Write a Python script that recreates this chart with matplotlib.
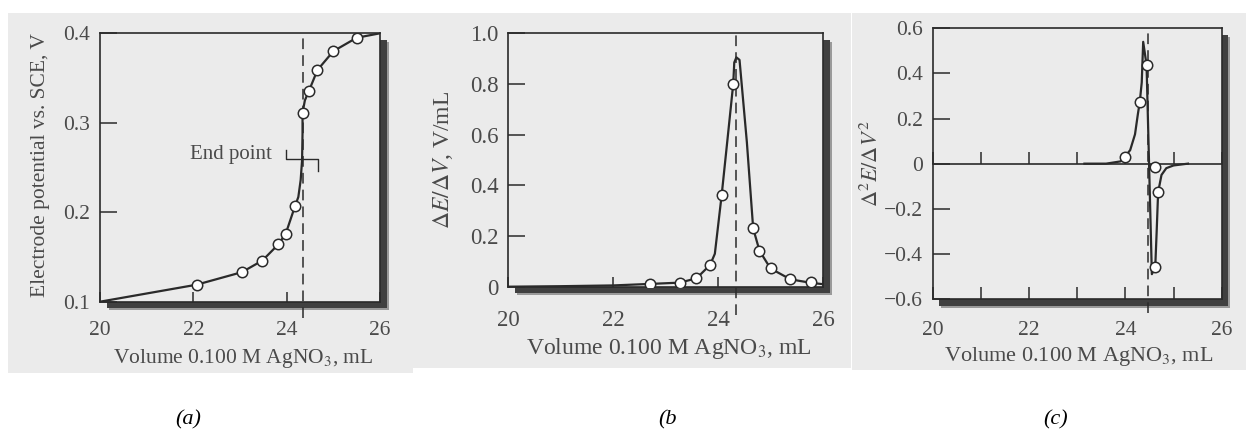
import matplotlib
matplotlib.use("Agg")
import matplotlib.pyplot as plt
from matplotlib.patches import Rectangle
from matplotlib.transforms import ScaledTranslation

plt.rcParams['font.family'] = ['Liberation Serif', 'DejaVu Serif']
plt.rcParams['mathtext.fontset'] = 'stix'

# ---------------- data ----------------
# (a) titration curve
a_pts_x = [22.07, 23.04, 23.48, 23.82, 23.98, 24.18, 24.34, 24.48, 24.66, 25.0, 25.5]
a_pts_y = [0.119, 0.133, 0.146, 0.164, 0.176, 0.207, 0.311, 0.336, 0.359, 0.380, 0.395]
a_line_x = [20.0, 22.07, 23.04, 23.48, 23.82, 23.98, 24.18, 24.25, 24.30, 24.33, 24.34,
            24.34, 24.39, 24.48, 24.66, 25.0, 25.5, 26.0]
a_line_y = [0.100, 0.119, 0.133, 0.146, 0.164, 0.176, 0.207, 0.217, 0.236, 0.258, 0.288,
            0.311, 0.325, 0.336, 0.359, 0.380, 0.395, 0.400]
a_end = 24.34
a_yticks = [0.1, 0.2, 0.3, 0.4]
a_ylabels = ['0.1', '0.2', '0.3', '0.4']

# (b) first derivative
b_pts_x = [22.71, 23.27, 23.59, 23.85, 24.07, 24.29, 24.67, 24.79, 25.0, 25.38, 25.78]
b_pts_y = [0.011, 0.016, 0.033, 0.086, 0.362, 0.80, 0.23, 0.142, 0.072, 0.029, 0.02]
b_line_x = [20.0, 21.0, 22.0, 22.71, 23.27, 23.59, 23.85, 23.94, 24.07, 24.18, 24.29,
            24.31, 24.35, 24.41, 24.55, 24.67, 24.79, 25.0, 25.38, 25.78, 26.0]
b_line_y = [0.0, 0.002, 0.005, 0.011, 0.016, 0.033, 0.086, 0.13, 0.362, 0.58, 0.80,
            0.885, 0.905, 0.895, 0.57, 0.23, 0.142, 0.072, 0.029, 0.015, 0.01]
b_end = 24.34
b_yticks = [0, 0.2, 0.4, 0.6, 0.8, 1.0]
b_ylabels = ['0', '0.2', '0.4', '0.6', '0.8', '1.0']

# (c) second derivative
c_pts_x = [23.99, 24.30, 24.44, 24.62, 24.68, 24.62]
c_pts_y = [0.031, 0.275, 0.437, -0.013, -0.127, -0.46]
c_line_x = [23.15, 23.6, 23.9, 23.99, 24.1, 24.2, 24.26, 24.30, 24.34, 24.37, 24.44,
            24.55, 24.62, 24.65, 24.68, 24.75, 24.85, 25.0, 25.3]
c_line_y = [0.0, 0.0, 0.01, 0.031, 0.06, 0.13, 0.22, 0.275, 0.36, 0.54, 0.437,
            -0.49, -0.46, -0.30, -0.127, -0.05, -0.02, -0.008, 0.0]
c_end = 24.48
c_yticks = [-0.6, -0.4, -0.2, 0, 0.2, 0.4, 0.6]
c_ylabels = ['\u22120.6', '\u22120.4', '\u22120.2', '0', '0.2', '0.4', '0.6']

x_ticks = [20, 22, 24, 26]
x_ticklabels = ['20', '22', '24', '26']
x_minor = [21, 23, 25]
xlabel = r'Volume 0.100 M AgNO$_3$, mL'
panel_tags = ['(a)', '(b', '(c)']

# ---------------- styling ----------------
W, H = 1246, 430
fig = plt.figure(figsize=(W / 100, H / 100), dpi=100)
fig.patch.set_facecolor('white')
BG = '#ebebeb'
INK = '#2a2a2a'
TXT = '#4a4a4a'

def px_rect(x0, y0, x1, y1):
    return [x0 / W, 1 - y1 / H, (x1 - x0) / W, (y1 - y0) / H]

# panel backgrounds (scanned photos)
for (x0, y0, x1, y1) in [(8, 13, 413, 373), (413, 13, 851, 368), (852, 13, 1246, 370)]:
    r = px_rect(x0, y0, x1, y1)
    fig.add_artist(Rectangle((r[0], r[1]), r[2], r[3], transform=fig.transFigure,
                             facecolor=BG, edgecolor='none', zorder=-5))

ax_a = fig.add_axes(px_rect(100, 33.3, 380, 301.7))
ax_b = fig.add_axes(px_rect(508, 33.3, 823, 286.7))
ax_c = fig.add_axes(px_rect(932.7, 28.3, 1221.7, 299))

def shadow(ax):
    for off, col in [(0.085, '#9a9a9a'), (0.065, '#404040')]:
        tr = ax.transAxes + ScaledTranslation(off, -off, fig.dpi_scale_trans)
        fig.add_artist(Rectangle((0, 0), 1, 1, transform=tr, facecolor=col,
                                 edgecolor='none', zorder=-1))

def style(ax, yl, yticks, ylabels, ylab, ylabpos, xlabpos, tickpad_x, fs_tick, fs_lab):
    ax.set_facecolor(BG)
    ax.set_zorder(1)
    for s in ax.spines.values():
        s.set_linewidth(1.2)
        s.set_color(INK)
    ax.set_xlim(20, 26)
    ax.set_ylim(*yl)
    ax.set_xticks(x_ticks)
    ax.set_xticklabels(x_ticklabels)
    ax.set_yticks(yticks)
    ax.set_yticklabels(ylabels)
    ax.tick_params(axis='y', direction='in', length=12, width=1.1, color=INK,
                   labelsize=fs_tick, labelcolor=TXT, pad=7)
    ax.tick_params(axis='x', direction='in', length=7, width=1.1, color=INK,
                   labelsize=fs_tick, labelcolor=TXT, pad=tickpad_x)
    ax.set_ylabel(ylab, fontsize=fs_lab, color=TXT, va='center')
    ax.yaxis.set_label_coords(*ylabpos)
    ax.set_xlabel(xlabel, fontsize=fs_lab, color=TXT, va='center')
    ax.xaxis.set_label_coords(*xlabpos)
    shadow(ax)

MK = dict(marker='o', linestyle='none', markersize=7.5, markerfacecolor='white',
          markeredgecolor=INK, markeredgewidth=1.1, zorder=4)
LN = dict(color=INK, linewidth=1.6, zorder=3)
DASH = dict(color=INK, linewidth=1.1, linestyle=(0, (7, 4)), zorder=2, clip_on=False)

# ---- (a)
style(ax_a, (0.1, 0.4), a_yticks, a_ylabels, 'Electrode potential vs. SCE, V',
      (-0.214, 0.51), (0.51, -0.21), 14, 15.5, 15.5)
ax_a.plot(a_line_x, a_line_y, **LN)
ax_a.plot(a_pts_x, a_pts_y, **MK)
ax_a.axvline(a_end, ymin=-0.06, ymax=1, **DASH)
ax_a.text(21.93, 0.264, 'End point', fontsize=15, color=TXT, va='center', ha='left')
ax_a.plot([23.99, 23.99, 24.68, 24.68], [0.2696, 0.2591, 0.2591, 0.2465],
          color=INK, linewidth=1.0, zorder=3)

# ---- (b)
style(ax_b, (0, 1.0), b_yticks, b_ylabels, r'$\Delta E/\Delta V$, V/mL',
      (-0.206, 0.5), (0.511, -0.242), 17, 16.5, 17)
ax_b.plot(b_line_x, b_line_y, **LN)
ax_b.plot(b_pts_x, b_pts_y, **MK)
ax_b.axvline(b_end, ymin=-0.11, ymax=1, **DASH)

# ---- (c)
style(ax_c, (-0.6, 0.6), c_yticks, c_ylabels, r'$\Delta^2E/\Delta V^2$',
      (-0.21, 0.499), (0.506, -0.214), 15.5, 15.5, 16)
ax_c.set_xticks(x_minor, minor=True)
ax_c.tick_params(axis='x', which='minor', direction='in', length=9, width=1.1, color=INK)
ax_c.tick_params(axis='x', which='major', length=9)
zero_ax = ax_c.secondary_xaxis(0.5)
zero_ax.set_xticks(x_ticks + x_minor)
zero_ax.set_xticklabels([''] * (len(x_ticks) + len(x_minor)))
zero_ax.tick_params(axis='x', direction='out', length=9, width=1.1, color=INK,
                    labeltop=False, labelbottom=False)
for s in zero_ax.spines.values():
    s.set_linewidth(1.2)
    s.set_color(INK)
ax_c.plot(c_line_x, c_line_y, **LN)
ax_c.plot(c_pts_x, c_pts_y, **MK)
ax_c.axvline(c_end, ymin=-0.05, ymax=1, **DASH)

# panel tags
for tag, xc in zip(panel_tags, [188, 667, 1056]):
    fig.text(xc / W, 1 - 420 / H, tag, fontsize=16, style='italic', color='black',
             ha='center', va='center')

fig.savefig('out.png', dpi=100, facecolor='white')
